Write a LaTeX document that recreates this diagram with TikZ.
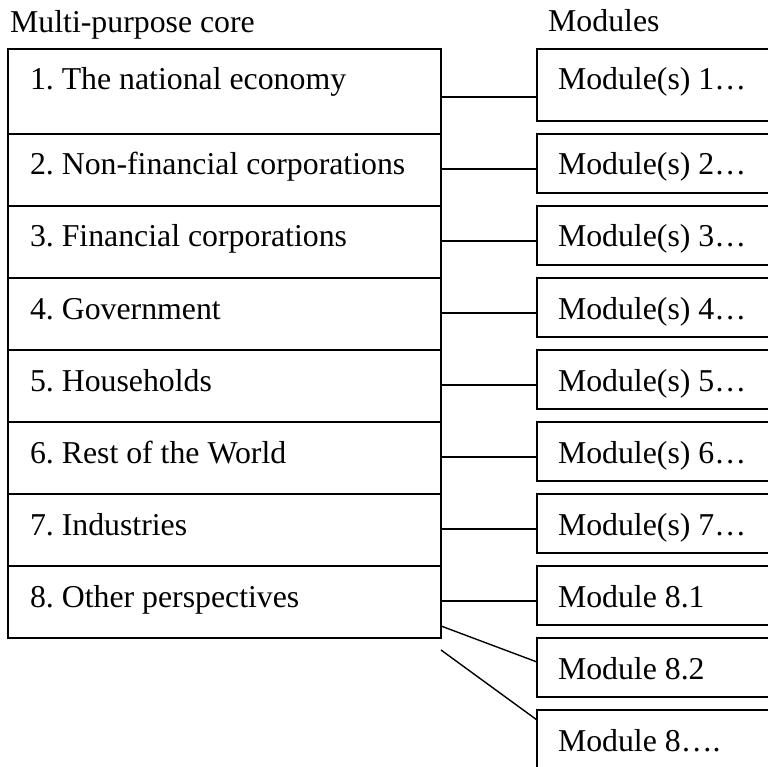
\documentclass[tikz,border=0pt]{standalone}
\usepackage{fontspec}
\setmainfont{Liberation Serif}
\usetikzlibrary{positioning}
\frenchspacing

\begin{document}
\begin{tikzpicture}[x=1pt, y=-1pt,
      node distance=0pt and 96pt,
      every node/.style={font=\fontsize{31.8pt}{38pt}\selectfont},
      row/.style={draw, line width=1.4pt, outer sep=0pt, inner xsep=22pt, inner ysep=0pt, text width=389pt, align=justify, text height=41pt, text depth=31pt},
      modbox/.style={draw, line width=1.4pt, outer sep=0pt, inner xsep=21pt, inner ysep=0pt, text width=220pt, align=justify, text height=41pt, text depth=18pt},
      link/.style={line width=1.4pt}]
      \useasboundingbox (0,0) rectangle (768,767);
      \node[anchor=base west, inner sep=0pt] (coretitle) at (10,33) {Multi-purpose core};
      \node[anchor=base west, inner sep=0pt] (modtitle)  at (548,32) {Modules};
      \node[row, anchor=north west, text depth=44pt] (core1) at (8,49) {1. The national economy};
      \node[row, below=of core1] (core2) {2. Non-financial corporations};
      \node[row, below=of core2] (core3) {3. Financial corporations};
      \node[row, below=of core3] (core4) {4. Government};
      \node[row, below=of core4] (core5) {5. Households};
      \node[row, below=of core5] (core6) {6. Rest of the World};
      \node[row, below=of core6] (core7) {7. Industries};
      \node[row, below=of core7] (core8) {8. Other perspectives};
      \node[modbox, anchor=north west, text depth=31pt] (mod1) at (537,49) {Module(s) 1…};
      \node[modbox, below=13pt of mod1]  (mod2)  {Module(s) 2…};
      \node[modbox, below=13pt of mod2]  (mod3)  {Module(s) 3…};
      \node[modbox, below=13pt of mod3]  (mod4)  {Module(s) 4…};
      \node[modbox, below=13pt of mod4]  (mod5)  {Module(s) 5…};
      \node[modbox, below=13pt of mod5]  (mod6)  {Module(s) 6…};
      \node[modbox, below=13pt of mod6]  (mod7)  {Module(s) 7…};
      \node[modbox, below=13pt of mod7]  (mod8)  {Module 8.1};
      \node[modbox, below=13pt of mod8]  (mod9)  {Module 8.2};
      \node[modbox, below=13pt of mod9, text depth=31pt] (mod10) {Module 8….};
      \coordinate (tie1) at ([yshift=24pt]mod1.south west);
      \coordinate (tie2) at ([yshift=24pt]mod2.south west);
      \coordinate (tie3) at ([yshift=24pt]mod3.south west);
      \coordinate (tie4) at ([yshift=24pt]mod4.south west);
      \coordinate (tie5) at ([yshift=24pt]mod5.south west);
      \coordinate (tie6) at ([yshift=24pt]mod6.south west);
      \coordinate (tie7) at ([yshift=24pt]mod7.south west);
      \coordinate (tie8) at ([yshift=24pt]mod8.south west);
      \coordinate (stub) at ([yshift=-12pt]core8.south east);
      \draw[link] (tie1 -| core1.east) -- (tie1);
      \draw[link] (tie2 -| core2.east) -- (tie2);
      \draw[link] (tie3 -| core3.east) -- (tie3);
      \draw[link] (tie4 -| core4.east) -- (tie4);
      \draw[link] (tie5 -| core5.east) -- (tie5);
      \draw[link] (tie6 -| core6.east) -- (tie6);
      \draw[link] (tie7 -| core7.east) -- (tie7);
      \draw[link] (tie8 -| core8.east) -- (tie8);
      \draw[link] ([yshift=12pt]core8.south east) -- ([yshift=-24pt]mod9.north west);
      \draw[link] (stub) -- ([yshift=-10pt]mod10.north west);
    \end{tikzpicture}
\end{document}
